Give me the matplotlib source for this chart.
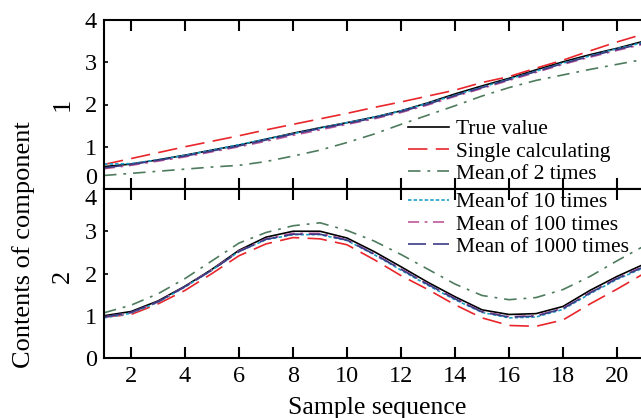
import matplotlib
matplotlib.use('Agg')
import matplotlib.pyplot as plt

# --- Data ---
samples = list(range(1, 22))
x_ticks = [2, 4, 6, 8, 10, 12, 14, 16, 18, 20]
y_ticks = [0, 1, 2, 3, 4]

series_names = ['True value', 'Single calculating', 'Mean of 2 times',
                'Mean of 10 times', 'Mean of 100 times', 'Mean of 1000 times']

# component 1 (upper panel)
c1_true = [0.53, 0.59, 0.69, 0.80, 0.92, 1.04, 1.18, 1.32, 1.45, 1.57, 1.70,
           1.85, 2.04, 2.25, 2.44, 2.62, 2.82, 3.01, 3.18, 3.33, 3.50]
c1_single = [0.58, 0.72, 0.86, 1.00, 1.13, 1.26, 1.40, 1.53, 1.66, 1.79, 1.93,
             2.06, 2.20, 2.34, 2.52, 2.66, 2.86, 3.05, 3.27, 3.48, 3.67]
c1_mean2 = [0.32, 0.37, 0.42, 0.47, 0.52, 0.56, 0.65, 0.78, 0.92, 1.10, 1.30,
            1.53, 1.75, 1.97, 2.20, 2.40, 2.57, 2.70, 2.83, 2.95, 3.07]
c1_mean10 = [0.59, 0.60, 0.69, 0.80, 0.92, 1.05, 1.18, 1.31, 1.44, 1.57, 1.70,
             1.85, 2.03, 2.22, 2.41, 2.60, 2.79, 2.98, 3.15, 3.32, 3.47]
c1_mean100 = [0.48, 0.56, 0.66, 0.76, 0.88, 1.00, 1.13, 1.27, 1.40, 1.53, 1.66,
              1.81, 1.99, 2.19, 2.38, 2.57, 2.76, 2.95, 3.12, 3.28, 3.43]
c1_mean1000 = [0.50, 0.58, 0.68, 0.78, 0.90, 1.02, 1.16, 1.30, 1.43, 1.55, 1.68,
               1.83, 2.01, 2.21, 2.40, 2.59, 2.78, 2.97, 3.14, 3.30, 3.45]

# component 2 (lower panel)
c2_true = [1.00, 1.10, 1.35, 1.70, 2.10, 2.55, 2.86, 3.00, 3.00, 2.84, 2.52,
           2.16, 1.79, 1.45, 1.14, 1.03, 1.05, 1.22, 1.60, 1.93, 2.22]
c2_single = [0.97, 1.03, 1.28, 1.60, 2.00, 2.42, 2.70, 2.85, 2.82, 2.68, 2.33,
             1.95, 1.62, 1.26, 0.95, 0.77, 0.75, 0.90, 1.28, 1.63, 2.00]
c2_mean2 = [1.07, 1.25, 1.52, 1.88, 2.30, 2.72, 2.97, 3.13, 3.20, 3.02, 2.77,
            2.45, 2.10, 1.75, 1.48, 1.38, 1.43, 1.62, 1.93, 2.30, 2.65]
c2_mean10 = [0.95, 1.06, 1.32, 1.68, 2.08, 2.52, 2.80, 2.92, 2.92, 2.78, 2.45,
             2.08, 1.72, 1.38, 1.08, 0.95, 0.97, 1.15, 1.52, 1.86, 2.14]
c2_mean100 = [0.97, 1.07, 1.33, 1.69, 2.09, 2.53, 2.82, 2.95, 2.95, 2.80, 2.47,
              2.11, 1.75, 1.41, 1.10, 0.98, 1.00, 1.18, 1.55, 1.89, 2.17]
c2_mean1000 = [0.97, 1.08, 1.33, 1.69, 2.08, 2.52, 2.81, 2.93, 2.93, 2.79, 2.46,
               2.10, 1.74, 1.40, 1.09, 0.97, 0.99, 1.17, 1.54, 1.88, 2.16]

# --- Styles ---
colors = ['black', '#e8262b', '#4e7b5e', '#1aa0c8', '#c0569a', '#3c3c85']
dashes = ['-', (0, (14, 6)), (0, (9, 5, 2, 5)), (0, (2.5, 1.5)),
          (0, (8, 4, 2, 4)), (0, (13, 5))]

plt.rcParams['font.family'] = ['Liberation Serif', 'DejaVu Serif']
plt.rcParams['lines.scale_dashes'] = False

fig = plt.figure(figsize=(6.41, 4.18), dpi=100)
W, H = 641, 418
left, right = 104 / W, 1.0
ax1 = fig.add_axes([left, 1 - 189 / H, right - left, (189 - 20) / H])
ax2 = fig.add_axes([left, 1 - 358 / H, right - left, (358 - 189) / H], sharex=ax1)

panels = [
    (ax1, [c1_true, c1_single, c1_mean2, c1_mean10, c1_mean100, c1_mean1000]),
    (ax2, [c2_true, c2_single, c2_mean2, c2_mean10, c2_mean100, c2_mean1000]),
]

handles = []
for ax, data in panels:
    handles = []
    for vals, name, c, ls in zip(data, series_names, colors, dashes):
        ln, = ax.plot(samples, vals, color=c, linestyle=ls, lw=1.2, label=name)
        handles.append(ln)
    ax.set_xlim(1, 1 + (641 - 104) / 27.0)
    ax.set_ylim(0, 4)
    ax.set_yticks(y_ticks)
    ax.set_xticks(x_ticks)
    ax.tick_params(axis='x', direction='in', length=8, width=1.5,
                   top=True, bottom=True, labelsize=17.5, pad=6)
    ax.tick_params(axis='y', direction='in', length=3, width=1.2,
                   right=False, labelsize=17.5, pad=5)
    for side in ['left', 'top', 'bottom']:
        ax.spines[side].set_linewidth(1.5)
    ax.spines['right'].set_visible(False)

ax1.tick_params(axis='x', labelbottom=False)

# nudge the labels that would collide at the shared edge
fig.canvas.draw()
ax1.get_yticklabels()[0].set_verticalalignment('bottom')
ax2.get_yticklabels()[-1].set_verticalalignment('top')

# --- Axis titles ---
fig.text(24 / W, 1 - 245 / H, 'Contents of component', rotation=90,
         ha='center', va='center', fontsize=19)
fig.text(63 / W, 1 - 104 / H, '1', rotation=90, ha='center', va='center',
         fontsize=19)
fig.text(63 / W, 1 - 276 / H, '2', rotation=90, ha='center', va='center',
         fontsize=19)
fig.text(377 / W, 1 - 414 / H, 'Sample sequence', ha='center',
         va='baseline', fontsize=18.5)

# --- Legend: first three in the upper panel, last three in the lower ---
leg_kw = dict(loc='upper left', frameon=False, fontsize=15.5,
              handlelength=1.9, handletextpad=0.35, labelspacing=0.11,
              borderpad=0, borderaxespad=0)
fig.legend(handles=handles[:3], bbox_to_anchor=(408 / W, 1 - 119 / H), **leg_kw)
fig.legend(handles=handles[3:], bbox_to_anchor=(408 / W, 1 - 192 / H), **leg_kw)

fig.savefig('out.png', dpi=100)
